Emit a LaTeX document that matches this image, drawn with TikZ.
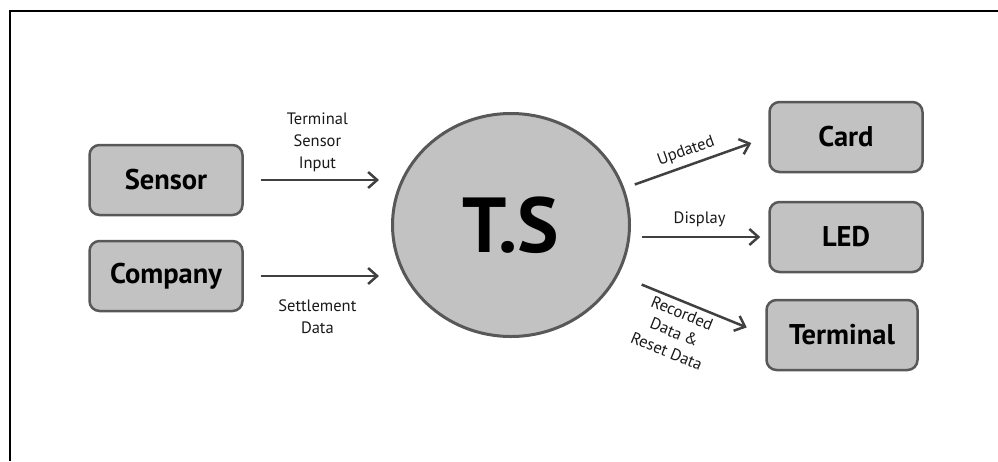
\documentclass[tikz,border=0pt]{standalone}
\usepackage{fontspec}
\setmainfont{PT Sans}
\usetikzlibrary{arrows.meta,shapes.geometric}
\definecolor{boxgray}{RGB}{194,194,194}
\definecolor{edgegray}{RGB}{88,88,88}
\definecolor{arrowgray}{RGB}{64,64,64}
\begin{document}
\begin{tikzpicture}[x=1pt, y=-1pt,
		block/.style={draw=edgegray, fill=boxgray, line width=2.5pt, rounded corners=10pt, minimum width=153pt, minimum height=70pt, font=\fontsize{28.5}{32}\selectfont\bfseries},
		hub/.style={ellipse, draw=edgegray, fill=boxgray, line width=3pt, minimum width=237pt, minimum height=223pt, inner sep=0pt, font=\fontsize{78}{80}\selectfont\bfseries},
		flow/.style={draw=arrowgray, line width=2.5pt, -{Straight Barb[length=9pt, width=16pt]}},
		tag/.style={font=\fontsize{16.5}{22}\selectfont, align=center, text=black!90, inner sep=2pt}]
		\useasboundingbox (0, 0) rectangle (998, 461);
		\draw[line width=1.2pt] (10, 461) -- (10, 11) -- (998, 11);

		\draw (166, 180) 	node[block] (sensor) 	{Sensor};
		\draw (166, 276) 	node[block] (company) 	{Company};
		\draw (511, 225) 	node[hub] (ts) 		{T.S};
		\draw (846, 137) 	node[block] (card) 	{Card};
		\draw (846, 237) 	node[block] (led) 	{LED};
		\draw (842, 335) 	node[block, minimum width=151pt] (terminal) 	{Terminal};

		\draw[flow, shorten <=17pt, shorten >=12pt] (sensor.east) -- node[tag, above, yshift=5pt] (insensor) {Terminal\\Sensor\\Input} (sensor -| ts.west);
		\draw[flow, shorten <=17pt, shorten >=12pt] (company.east) -- node[tag, below, yshift=-20pt] (incompany) {Settlement\\Data} (company -| ts.west);
		\draw[flow, shorten <=11pt, shorten >=18pt] (ts.18) -- node[tag, above, sloped, xshift=-6pt, yshift=3pt] (outcard) {Updated} (card.west);
		\draw[flow, shorten <=11pt, shorten >=8pt] (led -| ts.east) -- node[tag, above, yshift=7pt] (outled) {Display} (led.west);
		\draw[flow, shorten <=25pt, shorten >=20pt] (ts.-25) -- node[tag, below, sloped, xshift=-6pt, yshift=-2pt, font=\fontsize{16.5}{20.5}\selectfont] (outterminal) {Recorded\\Data \&\\Reset Data} (terminal.west);
	\end{tikzpicture}
\end{document}
